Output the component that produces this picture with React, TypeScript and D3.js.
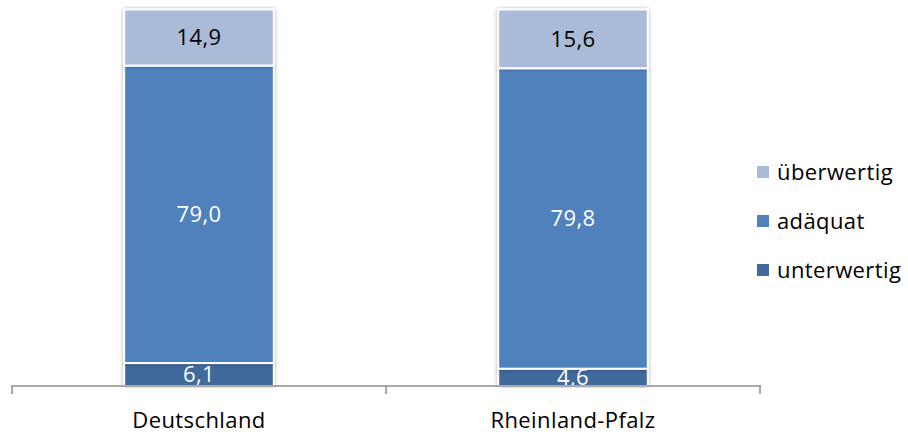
import React from "react";
import * as d3 from "d3";

const regions = ["Deutschland", "Rheinland-Pfalz"];
const seriesNames = ["unterwertig", "adäquat", "überwertig"];
const unterwertig = [6.1, 4.6];
const adaequat = [79.0, 79.8];
const ueberwertig = [14.9, 15.6];

const colors: Record<string, string> = {
  unterwertig: "#41699C",
  "adäquat": "#4F81BD",
  "überwertig": "#AABBD8",
};
const labelColors: Record<string, string> = {
  unterwertig: "#ffffff",
  "adäquat": "#ffffff",
  "überwertig": "#000000",
};

const W = 908;
const H = 434;
const FONT = "'Open Sans', 'Noto Sans', sans-serif";
const FS = 22;
const LS = 0.4;

export default function App() {
  const rows = regions.map((r, i) => ({
    region: r,
    unterwertig: unterwertig[i],
    "adäquat": adaequat[i],
    "überwertig": ueberwertig[i],
  }));
  const stack = d3.stack<any>().keys(seriesNames);
  const layers = stack(rows);

  const x = d3
    .scaleBand<string>()
    .domain(regions)
    .range([12, 760])
    .paddingInner(0.6)
    .paddingOuter(0.3);
  const y = d3.scaleLinear().domain([0, 100]).range([386, 9.5]);

  const fmt = (v: number) => v.toFixed(1).replace(".", ",");
  const legendItems = [...seriesNames].reverse();
  // category boundaries: outer edges plus the midpoint between the bands
  const tickXs = [12, (x(regions[0])! + x(regions[1])! + x.bandwidth()) / 2, 760];

  return (
    <svg
      width={W}
      height={H}
      style={{ position: "absolute", left: 0, top: 0, background: "#fff" }}
    >
      <defs>
        <filter id="barShadow" x="-10%" y="-5%" width="120%" height="110%">
          <feGaussianBlur in="SourceAlpha" stdDeviation="2" />
          <feComponentTransfer>
            <feFuncA type="linear" slope="0.3" />
          </feComponentTransfer>
          <feMerge>
            <feMergeNode />
            <feMergeNode in="SourceGraphic" />
          </feMerge>
        </filter>
      </defs>

      {layers.map((layer) => (
        <g key={layer.key} filter="url(#barShadow)">
          {layer.map((d, i) => (
            <rect
              key={i}
              x={x(regions[i])!}
              y={y(d[1])}
              width={x.bandwidth()}
              height={y(d[0]) - y(d[1])}
              fill={colors[layer.key]}
              stroke="#ffffff"
              strokeWidth={2}
            />
          ))}
        </g>
      ))}

      {layers.map((layer) =>
        layer.map((d, i) => (
          <text
            key={layer.key + i}
            x={x(regions[i])! + x.bandwidth() / 2}
            y={(y(d[0]) + y(d[1])) / 2}
            dy="0.36em"
            textAnchor="middle"
            fontFamily={FONT}
            fontSize={FS}
            letterSpacing={LS}
            fill={labelColors[layer.key]}
          >
            {fmt(d[1] - d[0])}
          </text>
        ))
      )}

      {/* category axis */}
      <line x1={11} x2={761} y1={386} y2={386} stroke="#8c8c8c" strokeWidth={1.5} />
      {tickXs.map((tx, i) => (
        <line key={i} x1={tx} x2={tx} y1={386} y2={394} stroke="#8c8c8c" strokeWidth={1.5} />
      ))}
      {regions.map((r) => (
        <text
          key={r}
          x={x(r)! + x.bandwidth() / 2}
          y={428}
          textAnchor="middle"
          fontFamily={FONT}
          fontSize={FS}
          letterSpacing={LS}
          fill="#000"
        >
          {r}
        </text>
      ))}

      {/* legend */}
      {legendItems.map((k, i) => (
        <g key={k} transform={`translate(757, ${172 + i * 49})`}>
          <rect x={0} y={-6} width={12} height={12} fill={colors[k]} />
          <text x={20} y={0} dy="0.36em" fontFamily={FONT} fontSize={FS} letterSpacing={LS} fill="#000">
            {k}
          </text>
        </g>
      ))}
    </svg>
  );
}
